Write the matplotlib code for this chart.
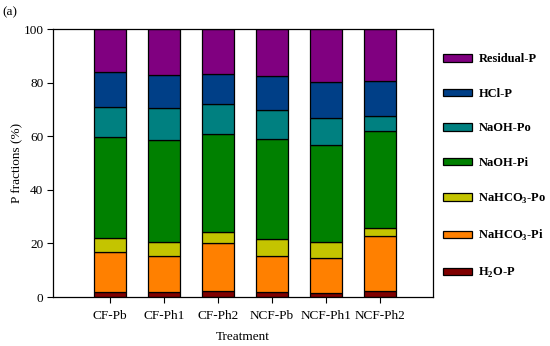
import matplotlib
matplotlib.use("Agg")
import matplotlib.pyplot as plt
import numpy as np

plt.rcParams['font.family'] = ['Liberation Serif', 'DejaVu Serif']
plt.rcParams['mathtext.fontset'] = 'custom'
plt.rcParams['mathtext.rm'] = 'Liberation Serif'
plt.rcParams['mathtext.bf'] = 'Liberation Serif:bold'

treatments = ['CF-Pb', 'CF-Ph1', 'CF-Ph2', 'NCF-Pb', 'NCF-Ph1', 'NCF-Ph2']
fractions = ['H$_\\mathbf{2}$O-P', 'NaHCO$_\\mathbf{3}$-Pi', 'NaHCO$_\\mathbf{3}$-Po',
             'NaOH-Pi', 'NaOH-Po', 'HCl-P', 'Residual-P']

h2o_p      = [1.7, 1.7, 2.1, 1.7, 1.5, 2.1]
nahco3_pi  = [15.1, 13.6, 18.2, 13.6, 13.1, 20.6]
nahco3_po  = [5.1, 5.4, 4.1, 6.2, 6.1, 3.0]
naoh_pi    = [38.0, 38.0, 36.5, 37.4, 36.2, 36.1]
naoh_po    = [11.0, 11.7, 11.0, 10.8, 10.0, 5.6]
hcl_p      = [13.2, 12.5, 11.5, 12.7, 13.5, 13.4]
residual_p = [15.9, 17.1, 16.6, 17.6, 19.6, 19.2]

series = [h2o_p, nahco3_pi, nahco3_po, naoh_pi, naoh_po, hcl_p, residual_p]
colors = ['#800000', '#ff8000', '#c4c400', '#008000', '#008080', '#003f87', '#800080']

fig = plt.figure(figsize=(5.5, 3.46), dpi=100)
ax = fig.add_axes([0.0964, 0.1416, 0.787 - 0.0964, 0.916 - 0.1416])

x = np.arange(len(treatments))
bottom = np.zeros(len(treatments))
handles = []
for vals, col, lab in zip(series, colors, fractions):
    b = ax.bar(x, vals, width=0.59, bottom=bottom, color=col, edgecolor='black',
               linewidth=0.9, label=lab)
    handles.append(b)
    bottom += np.array(vals)

ax.set_xlim(-1.05, 5.98)
ax.set_ylim(0, 100)
ax.set_xticks(x)
ax.set_xticklabels(treatments, fontsize=9.5)
ax.set_yticks([0, 20, 40, 60, 80, 100])
ax.tick_params(axis='y', labelsize=9.5, direction='out', length=4, pad=3)
ax.tick_params(axis='x', direction='out', length=4, pad=5)
for s in ax.spines.values():
    s.set_linewidth(0.9)
ax.set_xlabel('Treatment', fontsize=9.5, labelpad=7)
ax.set_ylabel('P fractions (%)', fontsize=9.5, labelpad=0)

leg = fig.legend(handles[::-1], fractions[::-1], loc='upper left',
                 bbox_to_anchor=(0.797, 0.86), frameon=False,
                 prop={'weight': 'bold', 'size': 9},
                 handlelength=2.3, handleheight=0.5, handletextpad=0.5,
                 labelspacing=1.8, borderaxespad=0)

fig.text(0.004, 0.965, '(a)', fontsize=9.5, ha='left', va='center')

fig.savefig('out.png', dpi=100)
